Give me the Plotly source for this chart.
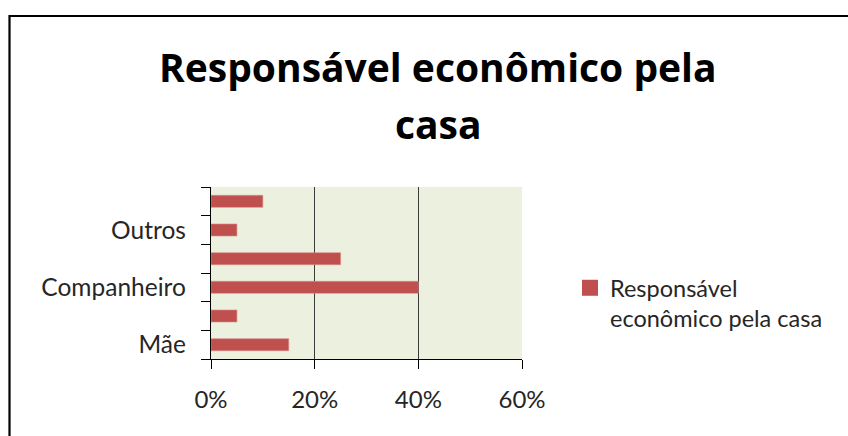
import plotly.graph_objects as go

# ---- data ----
titulo = "Responsável econômico pela casa"
serie_nome = "Responsável econômico pela casa"
# categories from bottom to top; only every other label is shown in the original
rotulos_categoria = ["Mãe", "", "Companheiro", "", "Outros", ""]
valores = [0.15, 0.05, 0.40, 0.25, 0.05, 0.10]
x_ticks = [0, 0.2, 0.4, 0.6]

posicoes = list(range(len(valores)))
mostrar = [i for i, t in enumerate(rotulos_categoria) if t]

BAR = "#C0504D"
FONT = "Lato, 'Open Sans', sans-serif"
TFONT = "'Open Sans', Lato, sans-serif"

fig = go.Figure()
fig.add_trace(go.Bar(
    x=valores, y=posicoes, orientation="h", width=0.42,
    marker=dict(color=BAR, line=dict(color="#d58b89", width=0.6)),
    showlegend=False, name=serie_nome,
))
# legend entry
fig.add_trace(go.Scatter(
    x=[None], y=[None], mode="markers",
    marker=dict(symbol="square", size=17, color=BAR),
    name="Responsável<br>econômico pela casa", showlegend=True,
))

L, R, T, B = 211, 848 - 522, 187, 436 - 359
PW, PH = 848 - L - R, 436 - T - B

def px(x):
    return (x - L) / PW

def py(y):
    return (436 - B - y) / PH

fig.update_layout(
    width=848, height=436,
    margin=dict(l=L, r=R, t=T, b=B, pad=0),
    paper_bgcolor="white",
    plot_bgcolor="#EBF1DE",
    font=dict(family=FONT, size=24, color="#262626"),
    legend=dict(
        x=px(570), y=py(266), xanchor="left", yanchor="top",
        font=dict(family=FONT, size=23.5, color="#262626"),
        valign="top", itemwidth=30, bgcolor="rgba(0,0,0,0)",
        tracegroupgap=0, borderwidth=0,
    ),
    xaxis=dict(
        range=[0, 0.6], tickvals=x_ticks, tickformat=".0%",
        showgrid=True, gridcolor="#3a3a3a", gridwidth=1.4,
        showline=True, linecolor="black", linewidth=1.4,
        ticks="outside", ticklen=9, tickcolor="black", tickwidth=1.4,
        zeroline=False, ticklabelstandoff=10,
        tickfont=dict(family=FONT, size=24, color="#262626"),
        fixedrange=True,
    ),
    yaxis=dict(
        range=[-0.5, len(valores) - 0.5],
        tickvals=mostrar, ticktext=[rotulos_categoria[i] for i in mostrar],
        ticks="", showgrid=False, zeroline=False,
        showline=True, linecolor="black", linewidth=1.4,
        minor=dict(tick0=-0.5, dtick=1, ticks="outside", ticklen=9,
                   tickcolor="black", tickwidth=1.4, showgrid=False),
        ticklabelstandoff=19,
        tickfont=dict(family=FONT, size=24.5, color="#262626"),
        fixedrange=True,
    ),
    shapes=[dict(
        type="rect", xref="paper", yref="paper",
        x0=px(9.5), x1=px(870), y0=py(470), y1=py(16),
        line=dict(color="black", width=2.2), fillcolor="rgba(0,0,0,0)",
        layer="below",
    )],
    annotations=[
        dict(text="Responsável econômico pela", xref="paper", yref="paper",
             x=px(438), y=py(66), xanchor="center", yanchor="middle",
             showarrow=False, font=dict(family=TFONT, size=39, color="black", weight="bold")),
        dict(text="casa", xref="paper", yref="paper",
             x=px(438), y=py(123), xanchor="center", yanchor="middle",
             showarrow=False, font=dict(family=TFONT, size=39, color="black", weight="bold")),
    ],
)

fig.write_html("out.html")
